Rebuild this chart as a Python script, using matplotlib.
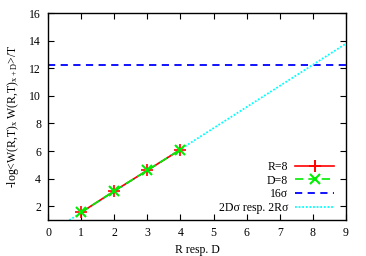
import numpy as np
import matplotlib
matplotlib.use("Agg")
import matplotlib.pyplot as plt

plt.rcParams['font.family'] = ['Liberation Serif', 'DejaVu Serif']
plt.rcParams['mathtext.fontset'] = 'custom'
plt.rcParams['mathtext.rm'] = 'Liberation Serif'
plt.rcParams['mathtext.it'] = 'Liberation Serif'
plt.rcParams['font.size'] = 8.5

# data
dist = [1, 2, 3, 4]
r8 = [1.55, 3.1, 4.6, 6.1]
r8_err = [0.08, 0.08, 0.1, 0.1]
d8 = [1.55, 3.1, 4.6, 6.1]
sigma16 = 12.25
sigma = sigma16 / 16
xline = [0, 9]

fig = plt.figure(figsize=(3.66, 2.56), dpi=100)
ax = fig.add_axes([48/366, 1 - 220/256, 298/366, 207/256])

h1 = ax.errorbar(dist, r8, yerr=r8_err, color='red', marker='+', ms=9, mew=1.2,
                 lw=1.2, capsize=0, label='R=8', zorder=3)
h2, = ax.plot(dist, d8, color='#00ee00', ls=(0, (5, 3)), marker='x', ms=7, mew=1.5,
              lw=1.2, label='D=8', zorder=4)
h3 = ax.axhline(sigma16, color='blue', ls=(0, (4, 3)), lw=1.3, label='16σ')
h4, = ax.plot(xline, [2 * sigma * v for v in xline], color='cyan', ls=(0, (1, 1)),
              lw=1.3, label='2Dσ resp. 2Rσ', zorder=2)

ax.set_xlim(0, 9)
ax.set_ylim(1, 16)
ax.set_xticks(range(0, 10))
ax.set_yticks(range(2, 17, 2))
ax.tick_params(direction='in', top=True, right=True, length=4, width=0.8, pad=5)
for s in ax.spines.values():
    s.set_linewidth(1.0)

ax.set_xlabel('R resp. D', labelpad=4)
ax.set_ylabel(r'-log<W(R,T)$_\mathrm{x}$ W(R,T)$_\mathrm{x+D}$>/T', labelpad=6)

ax.legend(handles=[h1, h2, h3, h4], loc='lower right', frameon=False,
          markerfirst=False, handlelength=3.3, handletextpad=0.6,
          labelspacing=0.15, borderaxespad=0.1, bbox_to_anchor=(0.98, 0.0))

fig.savefig('out.png', dpi=100)
